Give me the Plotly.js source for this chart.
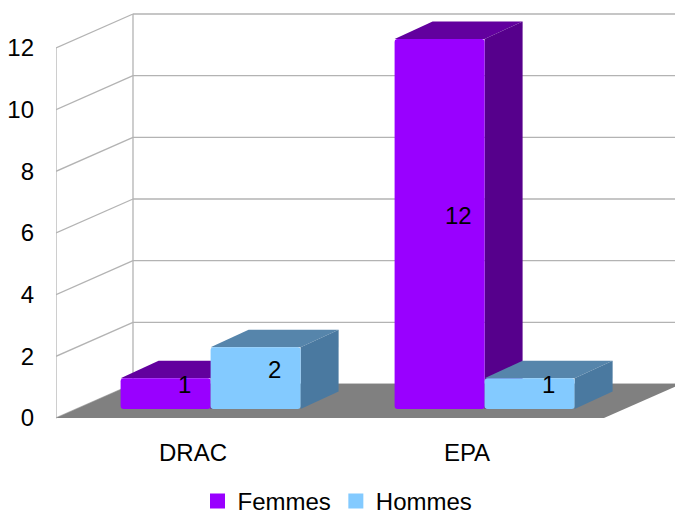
<!DOCTYPE html>
<html>
<head>
<meta charset="utf-8">
<script src="https://cdn.plot.ly/plotly-3.0.1.min.js"></script>
<style>html,body{margin:0;padding:0;background:#fff;}#chart{width:675px;height:516px;}</style>
</head>
<body>
<div id="chart"></div>
<script>
// ---- data ----
const categories = ['DRAC', 'EPA'];
const femmes = [1, 12];
const hommes = [2, 1];
const seriesNames = ['Femmes', 'Hommes'];
const yTicks = [0, 2, 4, 6, 8, 10, 12];

// ---- styles / geometry (pixel based 3D projection) ----
const FONT = {family: 'Liberation Sans, Arial, sans-serif', size: 24, color: '#000'};
const PXX = 274;          // px per category unit
const PXY = 370 / 12;     // px per value unit
const WALL_DX = 77 / PXX, WALL_DY = 34 / PXY;   // full depth of the scene
const FRONT_DX = 17.6 / PXX, BASE = 9 / PXY;    // depth where bars stand
const BAR_DX = 38 / PXX, BAR_DY = 17.5 / PXY;   // depth of a bar
const BAR_W = 90 / PXX;
const offsets = [FRONT_DX - BAR_W, FRONT_DX];
const frontCol = ['#9900ff', '#83caff'];
const topCol = ['#62009e', '#5685ab'];
const sideCol = ['#56008c', '#4a79a0'];
const gridCol = '#b3b3b3';
const floorCol = '#808080';
const X0 = -0.5, X1 = 1.5;
const XR = -0.5 + 619 / PXX;
const yMax = yTicks[yTicks.length - 1];

const seriesVals = [femmes, hommes];

const traces = seriesVals.map((vals, s) => ({
  type: 'bar',
  name: seriesNames[s],
  x: categories.map((c, i) => i),
  y: vals,
  base: BASE,
  width: BAR_W,
  offset: offsets[s],
  marker: {color: frontCol[s], line: {width: 0}, cornerradius: 3},
  hoverinfo: 'skip'
}));

const shapes = [];
const line = (xa, ya, xb, yb) => shapes.push({type: 'line', xref: 'x', yref: 'y', x0: xa, y0: ya, x1: xb, y1: yb,
  layer: 'below', line: {color: gridCol, width: 1.3}});
const poly = (pts, color) => shapes.push({type: 'path', xref: 'x', yref: 'y', layer: 'below',
  path: 'M' + pts.map(p => p[0] + ',' + p[1]).join(' L') + ' Z', fillcolor: color, line: {width: 0}});

// walls
line(X0, 0, X0, yMax);
line(X0 + WALL_DX, WALL_DY, X0 + WALL_DX, yMax + WALL_DY);
yTicks.forEach(v => {
  line(X0, v, X0 + WALL_DX, v + WALL_DY);
  line(X0 + WALL_DX, v + WALL_DY, XR + 0.1, v + WALL_DY);
});
// floor
poly([[X0, 0], [X1, 0], [X1 + WALL_DX, WALL_DY], [X0 + WALL_DX, WALL_DY]], floorCol);

// bar top & side faces
const annotations = [];
categories.forEach((c, i) => {
  seriesVals.forEach((vals, s) => {
    const xl = i + offsets[s], xr = xl + BAR_W;
    const top = BASE + vals[i];
    poly([[xl, top], [xr, top], [xr + BAR_DX, top + BAR_DY], [xl + BAR_DX, top + BAR_DY]], topCol[s]);
    poly([[xr, BASE], [xr, top], [xr + BAR_DX, top + BAR_DY], [xr + BAR_DX, BASE + BAR_DY]], sideCol[s]);
    annotations.push({xref: 'x', yref: 'y', x: xl + BAR_W / 2 + BAR_DX / 2, y: BASE + vals[i] / 2 + BAR_DY / 2,
      text: String(vals[i]), showarrow: false, font: FONT});
  });
});

const layout = {
  width: 675, height: 516,
  margin: {l: 56, r: 0, t: 4, b: 90},
  paper_bgcolor: '#fff', plot_bgcolor: 'rgba(0,0,0,0)',
  font: FONT,
  showlegend: true,
  barmode: 'overlay',
  xaxis: {type: 'category', range: [X0, XR], showgrid: false, zeroline: false, showline: false,
    tickvals: categories.map((c, i) => i), ticktext: categories, ticks: '', ticklabelstandoff: 10,
    tickfont: FONT, fixedrange: true},
  yaxis: {range: [-8 / PXY, 414 / PXY], tickvals: yTicks, ticktext: yTicks.map(String),
    showgrid: false, zeroline: false, showline: false, ticks: '', ticklabelstandoff: 21,
    tickfont: FONT, fixedrange: true},
  legend: {orientation: 'h', xref: 'container', x: 0.5, xanchor: 'center', yref: 'container', y: 0.0, yanchor: 'bottom',
    font: FONT, itemclick: false, itemdoubleclick: false},
  shapes: shapes,
  annotations: annotations
};

Plotly.newPlot('chart', traces, layout, {staticPlot: true, displayModeBar: false}).then(gd => {
  // enlarge bar legend swatches to match the reference squares and nudge the legend down
  const leg = gd.querySelector('.legend');
  if (leg) {
    const tr = leg.getAttribute('transform') || '';
    const m = tr.match(/translate\(([-\d.]+),\s*([-\d.]+)\)/);
    if (m) leg.setAttribute('transform', 'translate(' + m[1] + ',' + (parseFloat(m[2]) + 8) + ')');
    leg.querySelectorAll('.legendpoints path').forEach(p => {
      p.setAttribute('d', 'M-7.5,-7.5H7.5V7.5H-7.5Z');
    });
  }
});
</script>
</body>
</html>
